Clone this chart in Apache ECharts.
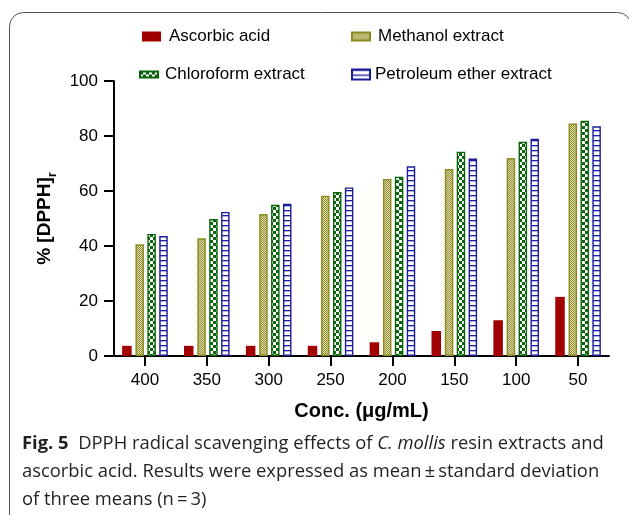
<!DOCTYPE html>
<html>
<head>
<meta charset="utf-8">
<script src="https://cdn.jsdelivr.net/npm/echarts@6/dist/echarts.min.js"></script>
<style>
html,body{margin:0;padding:0;background:#fff;}
#chart{width:629px;height:515px;}
</style>
</head>
<body>
<div id="chart"></div>
<script>
const categories = ['400', '350', '300', '250', '200', '150', '100', '50'];
const seriesNames = ['Ascorbic acid', 'Methanol extract', 'Chloroform extract', 'Petroleum ether extract'];
const ascorbic = [3.7, 3.7, 3.7, 3.7, 5.0, 9.1, 13.0, 21.5];
const methanol = [40.6, 42.8, 51.6, 58.3, 64.4, 68.0, 72.0, 84.5];
const chloroform = [44.4, 49.8, 55.0, 59.6, 65.2, 74.3, 77.9, 85.5];
const petroleum = [43.6, 52.4, 55.4, 61.3, 69.0, 71.8, 79.0, 83.5];
const yMin = 0, yMax = 100, yStep = 20;

function makePattern(w, h, draw) {
  const c = document.createElement('canvas');
  c.width = w; c.height = h;
  const ctx = c.getContext('2d');
  draw(ctx);
  return { image: c, repeat: 'repeat' };
}
const olivePat = makePattern(2, 2, ctx => {
  ctx.fillStyle = '#e2dfae'; ctx.fillRect(0, 0, 2, 2);
  ctx.fillStyle = '#8f8d33'; ctx.fillRect(0, 0, 1, 1); ctx.fillRect(1, 1, 1, 1);
});
const greenPat = makePattern(6, 6, ctx => {
  ctx.fillStyle = '#ffffff'; ctx.fillRect(0, 0, 6, 6);
  ctx.fillStyle = '#0b650b'; ctx.fillRect(0, 0, 3, 3); ctx.fillRect(3, 3, 3, 3);
});
const bluePat = makePattern(4, 5, ctx => {
  ctx.fillStyle = '#ffffff'; ctx.fillRect(0, 0, 4, 5);
  ctx.fillStyle = '#1f1f9e'; ctx.fillRect(0, 0, 4, 1);
  ctx.fillStyle = '#b4b4e2'; ctx.fillRect(0, 1, 4, 1);
});

const FONT = "'Liberation Sans', Arial, sans-serif";
const CAP = "'Open Sans', sans-serif";
const chart = echarts.init(document.getElementById('chart'), null, { renderer: 'canvas' });

function legendAt(name, left, top, w, h, textPad) {
  return {
    data: [name], left: left, top: top, orient: 'horizontal',
    itemWidth: w, itemHeight: h, icon: 'rect', padding: 0,
    selectedMode: false,
    textStyle: { fontFamily: FONT, fontSize: 17, color: '#000', padding: [0, 0, 0, textPad] }
  };
}

const barW = 8.5;
const capFS = 18.4;
const option = {
  animation: false,
  backgroundColor: '#fff',
  legend: [
    legendAt(seriesNames[0], 142, 28, 19, 10, 3),
    legendAt(seriesNames[1], 351, 28, 18, 8, 3),
    legendAt(seriesNames[2], 139, 66, 18, 6, 2),
    legendAt(seriesNames[3], 351, 66, 18, 10, 0)
  ],
  grid: { left: 114, right: 20, top: 81, bottom: 159, containLabel: false },
  xAxis: {
    type: 'category', data: categories,
    axisLine: { lineStyle: { color: '#000', width: 2 } },
    axisTick: { show: true, length: 10, alignWithLabel: true, lineStyle: { color: '#000', width: 2 } },
    axisLabel: { fontFamily: FONT, fontSize: 17, color: '#000', margin: 16 },
    name: 'Conc. (\u03bcg/mL)', nameLocation: 'middle', nameGap: 45,
    nameTextStyle: { fontFamily: FONT, fontSize: 20, fontWeight: 'bold', color: '#000' }
  },
  yAxis: {
    type: 'value', min: yMin, max: yMax, interval: yStep,
    axisLine: { show: true, lineStyle: { color: '#000', width: 2 } },
    axisTick: { show: true, length: 10, lineStyle: { color: '#000', width: 2 } },
    splitLine: { show: false },
    axisLabel: { fontFamily: FONT, fontSize: 17, color: '#000', margin: 16 },
    name: '{m|% [DPPH]}{s|r}', nameLocation: 'middle', nameGap: 55,
    nameTextStyle: {
      rich: {
        m: { fontFamily: FONT, fontSize: 19, fontWeight: 'bold', color: '#000', lineHeight: 28, verticalAlign: 'middle' },
        s: { fontFamily: FONT, fontSize: 13, fontWeight: 'bold', color: '#000', lineHeight: 28, verticalAlign: 'bottom' }
      }
    }
  },
  series: [
    { name: seriesNames[0], type: 'bar', data: ascorbic, barWidth: barW + 1, barGap: '40%',
      itemStyle: { color: '#a10000', borderWidth: 0 } },
    { name: seriesNames[1], type: 'bar', data: methanol, barWidth: barW,
      itemStyle: { color: olivePat, borderColor: '#8b8a1c', borderWidth: 1.4 } },
    { name: seriesNames[2], type: 'bar', data: chloroform, barWidth: barW,
      itemStyle: { color: greenPat, borderColor: '#0a640a', borderWidth: 1.4 } },
    { name: seriesNames[3], type: 'bar', data: petroleum, barWidth: barW,
      itemStyle: { color: bluePat, borderColor: '#1c1c99', borderWidth: 1.4 } }
  ],
  graphic: [
    { type: 'rect', silent: true, z: -1,
      shape: { x: 9.5, y: 12.5, width: 622, height: 600, r: 14 },
      style: { fill: 'none', stroke: '#555', lineWidth: 1 } },
    { type: 'text', left: 22, top: 435, silent: true,
      style: { text: '{b|Fig. 5}  DPPH radical scavenging effects of {i|C. mollis} resin extracts and',
        fontFamily: CAP, fontSize: capFS, fill: '#231f20',
        rich: { b: { fontFamily: CAP, fontSize: capFS, fontWeight: 'bold', fill: '#231f20' },
                i: { fontFamily: CAP, fontSize: capFS, fontStyle: 'italic', fill: '#231f20' } } } },
    { type: 'text', left: 22, top: 463, silent: true,
      style: { text: 'ascorbic acid. Results were expressed as mean\u2009\u00b1\u2009standard deviation',
        fontFamily: CAP, fontSize: capFS, fill: '#231f20' } },
    { type: 'text', left: 22, top: 491, silent: true,
      style: { text: 'of three means (n\u2009=\u20093)',
        fontFamily: CAP, fontSize: capFS, fill: '#231f20' } }
  ]
};
chart.setOption(option);
</script>
</body>
</html>
